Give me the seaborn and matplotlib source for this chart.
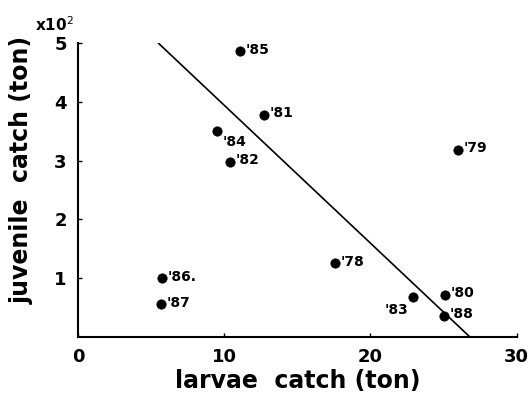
import numpy as np
import pandas as pd
import seaborn as sns
import matplotlib.pyplot as plt

years = ["'85", "'81", "'84", "'82", "'79", "'86.", "'87", "'78", "'83", "'80", "'88"]
larvae = [11.1, 12.7, 9.5, 10.4, 26.0, 5.75, 5.7, 17.6, 22.9, 25.1, 25.0]
juvenile = [4.86, 3.78, 3.51, 2.98, 3.19, 1.0, 0.56, 1.26, 0.68, 0.72, 0.36]

line_x = [5.5, 26.8]
line_y = [5.0, 0.0]

df = pd.DataFrame({"larvae": larvae, "juvenile": juvenile, "year": years})

sns.set_style("ticks", {"text.color": "black", "axes.labelcolor": "black",
                        "xtick.color": "black", "ytick.color": "black",
                        "axes.edgecolor": "black"})
fig = plt.figure(figsize=(5.3, 4.07), dpi=100)
ax = fig.add_axes([0.147, 0.172, 0.828, 0.722])

sns.lineplot(x=line_x, y=line_y, color="black", linewidth=1.2, ax=ax)
sns.scatterplot(data=df, x="larvae", y="juvenile", color="black", s=45,
                edgecolor="black", ax=ax, zorder=3)

# label offsets in points
offsets = {"'83": (-20, -9), "'84": (4, -8)}
for _, r in df.iterrows():
    dx, dy = offsets.get(r["year"], (4, 1))
    ax.annotate(r["year"], (r["larvae"], r["juvenile"]), xytext=(dx, dy),
                textcoords="offset points", fontsize=10, va="center",
                fontweight="bold", family="DejaVu Sans Condensed", color="black")

ax.set_xlim(0, 30)
ax.set_ylim(0, 5)
ax.set_xticks([0, 10, 20, 30])
ax.set_yticks([1, 2, 3, 4, 5])
ax.tick_params(direction="in", length=3, width=1, labelsize=13, pad=8)
for lab in ax.get_xticklabels() + ax.get_yticklabels():
    lab.set_fontweight("bold")
ax.spines["left"].set_linewidth(1.5)
ax.spines["bottom"].set_linewidth(1.5)
sns.despine(ax=ax)

ax.set_xlabel("larvae  catch (ton)", fontsize=17, fontweight="bold", labelpad=2)
ax.set_ylabel("juvenile  catch (ton)", fontsize=17, fontweight="bold", labelpad=6)
ax.yaxis.set_label_coords(-0.1, 0.57)
ax.text(-0.01, 1.03, r"x10$^2$", transform=ax.transAxes, ha="right",
        va="bottom", fontsize=11, fontweight="bold")

fig.savefig("out.png", dpi=100)
